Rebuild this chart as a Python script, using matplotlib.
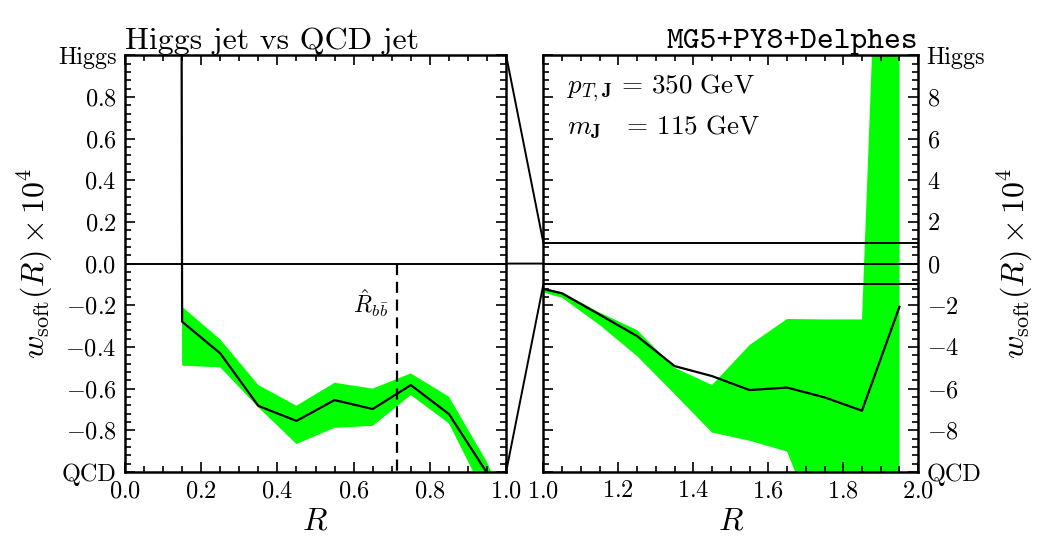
import matplotlib
matplotlib.use("Agg")
import matplotlib.pyplot as plt
from matplotlib.patches import ConnectionPatch
from matplotlib.ticker import MultipleLocator, FixedLocator

plt.rcParams['font.family'] = 'serif'
plt.rcParams['font.serif'] = ['cmr10']
plt.rcParams['mathtext.fontset'] = 'cm'
plt.rcParams['axes.formatter.use_mathtext'] = True

# ---- data ----
R = [0.05, 0.15, 0.25, 0.35, 0.45, 0.55, 0.65, 0.75, 0.85, 0.95,
     1.05, 1.15, 1.25, 1.35, 1.45, 1.55, 1.65, 1.75, 1.85, 1.95]
w_soft = [100.0, -0.279, -0.431, -0.683, -0.755, -0.655, -0.698, -0.583, -0.722, -1.005,
          -1.43, -2.45, -3.48, -4.92, -5.40, -6.07, -5.95, -6.42, -7.06, -2.07]
w_upper = [120.0, -0.207, -0.364, -0.583, -0.682, -0.572, -0.600, -0.527, -0.639, -0.953,
           -1.38, -2.35, -3.19, -5.00, -5.83, -3.91, -2.66, -2.68, -2.68, 45.0]
w_lower = [60.0, -0.49, -0.498, -0.69, -0.866, -0.788, -0.779, -0.631, -0.767, -1.131,
           -1.64, -2.95, -4.44, -6.26, -8.11, -8.50, -9.02, -13.5, -20.0, -30.0]
R_bb = 0.713

left_yticks = [-1.0, -0.8, -0.6, -0.4, -0.2, 0.0, 0.2, 0.4, 0.6, 0.8, 1.0]
left_ylabels = ['QCD', '$-0.8$', '$-0.6$', '$-0.4$', '$-0.2$', '$0.0$',
                '$0.2$', '$0.4$', '$0.6$', '$0.8$', 'Higgs']
right_yticks = [-10, -8, -6, -4, -2, 0, 2, 4, 6, 8, 10]
right_ylabels = ['QCD', '$-8$', '$-6$', '$-4$', '$-2$', '$0$',
                 '$2$', '$4$', '$6$', '$8$', 'Higgs']
left_xticks = [0.0, 0.2, 0.4, 0.6, 0.8, 1.0]
right_xticks = [1.0, 1.2, 1.4, 1.6, 1.8, 2.0]

GREEN = '#00ff00'

fig = plt.figure(figsize=(10.5, 5.52), dpi=100)
ax1 = fig.add_axes([0.119, 0.145, 0.363, 0.755])
ax2 = fig.add_axes([0.5175, 0.145, 0.357, 0.755])

for ax in (ax1, ax2):
    ax.fill_between(R, w_lower, w_upper, color=GREEN, lw=0, zorder=1)
    ax.plot(R, w_soft, color='black', lw=1.6, zorder=3)
    for s in ax.spines.values():
        s.set_linewidth(1.8)
    ax.tick_params(which='both', direction='in', top=True, bottom=True,
                   left=True, right=True, width=1.2)
    ax.tick_params(which='major', length=7, labelsize=17.5, pad=6)
    ax.tick_params(which='minor', length=4)
    ax.xaxis.set_minor_locator(MultipleLocator(0.05))
    ax.set_xlabel('$R$', fontsize=23, labelpad=4)

ax1.set_xlim(0, 1)
ax1.set_ylim(-1, 1)
ax1.axhline(0, color='black', lw=1.4, zorder=2)
ax1.set_xticks(left_xticks)
ax1.set_xticklabels(['$%.1f$' % t for t in left_xticks])
ax1.yaxis.set_major_locator(FixedLocator(left_yticks))
ax1.set_yticklabels(left_ylabels)
ax1.yaxis.set_minor_locator(MultipleLocator(0.04))
ax1.plot([R_bb, R_bb], [0, -1], color='black', lw=1.6, ls=(0, (5, 3)), zorder=2)
ax1.text(R_bb - 0.02, -0.19, r'$\hat{R}_{b\bar{b}}$', fontsize=17, ha='right', va='center')
ax1.set_ylabel(r'$w_{\rm soft}(R)\times 10^4$', fontsize=23, labelpad=2)
ax1.set_title('Higgs jet vs QCD jet', loc='left', fontsize=23, pad=3)

ax2.set_xlim(1, 2)
ax2.set_ylim(-10, 10)
ax2.axhline(0, color='black', lw=1.4, zorder=2)
ax2.axhline(1, color='black', lw=1.4, zorder=2)
ax2.axhline(-1, color='black', lw=1.4, zorder=2)
ax2.set_xticks(right_xticks)
ax2.set_xticklabels(['$%.1f$' % t for t in right_xticks])
ax2.yaxis.set_major_locator(FixedLocator(right_yticks))
ax2.set_yticklabels(right_ylabels)
ax2.yaxis.set_minor_locator(MultipleLocator(0.4))
ax2.yaxis.tick_right()
ax2.tick_params(which='both', left=True, right=True, labelleft=False, labelright=True)
ax2.yaxis.set_label_position('right')
ax2.set_ylabel(r'$w_{\rm soft}(R)\times 10^4$', fontsize=23, labelpad=8)
ax2.set_title('MG5+PY8+Delphes', loc='right', fontsize=23, pad=3, family='cmtt10')
ax2.text(1.062, 8.4, r'$p_{T,\mathbf{J}}\,=\,350\ \mathrm{GeV}$', fontsize=19.5, va='center')
ax2.text(1.062, 6.55, r'$m_{\mathbf{J}}\ \ \,=\,115\ \mathrm{GeV}$', fontsize=19.5, va='center')

# connectors between panels
for y in (1, -1, 0):
    con = ConnectionPatch(xyA=(1.0, y), coordsA=ax1.transData,
                          xyB=(1.0, y), coordsB=ax2.transData,
                          color='black', lw=1.4)
    fig.add_artist(con)

fig.savefig('out.png', dpi=100)
